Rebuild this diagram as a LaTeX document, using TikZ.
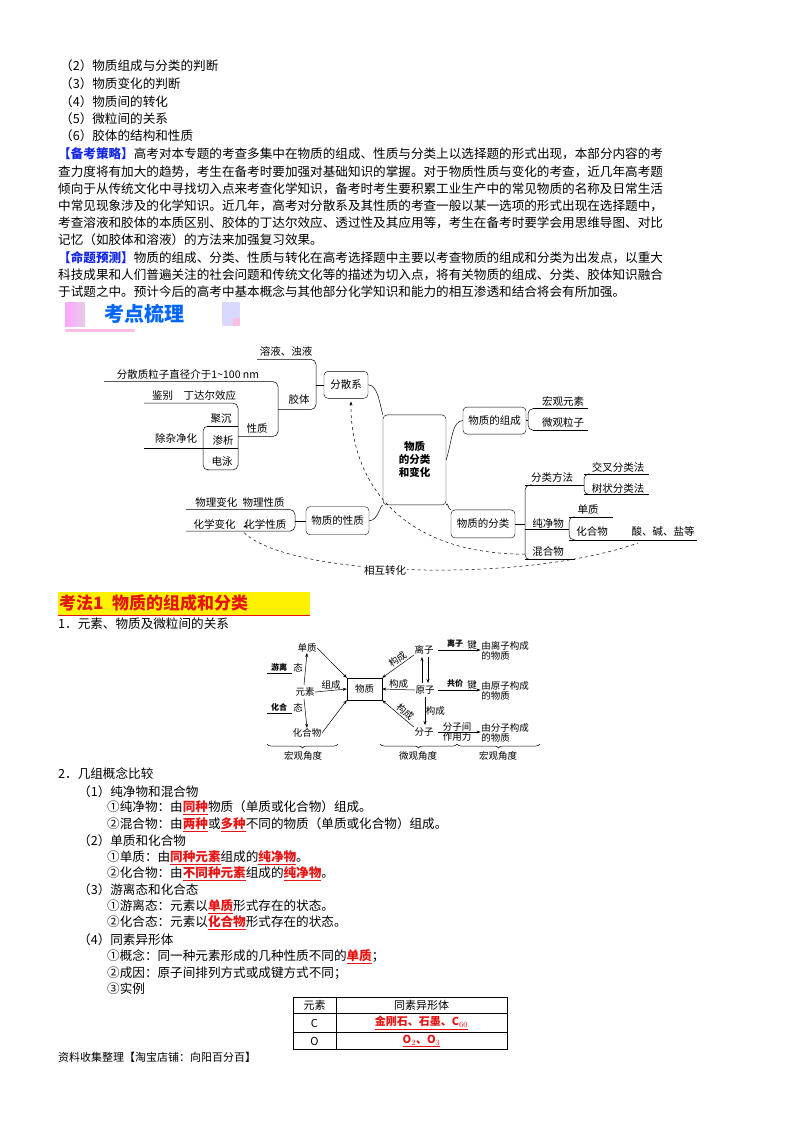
\documentclass[tikz,border=0pt]{standalone}
\usepackage{fontspec}
\setmainfont{Noto Sans CJK SC}
\usetikzlibrary{arrows.meta,decorations.pathreplacing}
\definecolor{hlblue}{RGB}{20,40,230}
\definecolor{hlred}{RGB}{230,20,20}
\newcommand\bt{\fontsize{12.6}{14}\selectfont}
\newcommand\rb[1]{\textcolor{hlred}{\underline{\textbf{#1}}}}
\begin{document}
\begin{tikzpicture}[x=1pt,y=-1pt,
  tl/.style={anchor=west,inner sep=0pt,font=\bt},
  mm/.style={inner sep=1pt,font=\fontsize{10.5}{12}\selectfont},
  mbox/.style={draw,rounded corners=4pt,inner sep=2pt,font=\fontsize{10.5}{12}\selectfont},
  dg/.style={inner sep=0.5pt,font=\fontsize{9.5}{10.5}\selectfont},
  ar/.style={-{Stealth[length=4pt,width=3pt]}},
  ln/.style={line width=0.5pt}]
\useasboundingbox (0,0) rectangle (800,1132);
\fill[white] (0,0) rectangle (800,1132);
% ---------- top text
\node[tl] at (60,66) {（2）物质组成与分类的判断};
\node[tl] at (60,84) {（3）物质变化的判断};
\node[tl] at (60,102) {（4）物质间的转化};
\node[tl] at (60,119) {（5）微粒间的关系};
\node[tl] at (60,136) {（6）胶体的结构和性质};
\node[tl] at (58,154) {\textcolor{hlblue}{\textbf{【备考策略】}}高考对本专题的考查多集中在物质的组成、性质与分类上以选择题的形式出现，本部分内容的考};
\node[tl] at (58,172) {查力度将有加大的趋势，考生在备考时要加强对基础知识的掌握。对于物质性质与变化的考查，近几年高考题};
\node[tl] at (58,189) {倾向于从传统文化中寻找切入点来考查化学知识，备考时考生要积累工业生产中的常见物质的名称及日常生活};
\node[tl] at (58,206) {中常见现象涉及的化学知识。近几年，高考对分散系及其性质的考查一般以某一选项的形式出现在选择题中，};
\node[tl] at (58,223) {考查溶液和胶体的本质区别、胶体的丁达尔效应、透过性及其应用等，考生在备考时要学会用思维导图、对比};
\node[tl] at (58,240) {记忆（如胶体和溶液）的方法来加强复习效果。};
\node[tl] at (58,258) {\textcolor{hlblue}{\textbf{【命题预测】}}物质的组成、分类、性质与转化在高考选择题中主要以考查物质的组成和分类为出发点，以重大};
\node[tl] at (58,275) {科技成果和人们普遍关注的社会问题和传统文化等的描述为切入点，将有关物质的组成、分类、胶体知识融合};
\node[tl] at (58,292) {于试题之中。预计今后的高考中基本概念与其他部分化学知识和能力的相互渗透和结合将会有所加强。};
% ---------- banner
\fill[left color=magenta!35,right color=violet!20] (65,302) rectangle (85,326);
\fill[blue!15] (222,302) rectangle (240,326);
\fill[magenta!25] (233,318) rectangle (240,326);
\fill[magenta!25] (65,329) rectangle (135,332);
\node[anchor=west,inner sep=0pt,font=\fontsize{20}{22}\selectfont\bfseries,text=blue!60!cyan] (banner) at (104,314) {考点梳理};
% ---------- mind map
\begin{scope}[shift={(0,67.6)},y=-0.795pt]
\node[mbox,minimum width=63pt,minimum height=90pt,align=center,font=\fontsize{10.5}{13}\selectfont\bfseries] (ctr) at (414.5,493.5) {物质\\的分类\\和变化};
\node[mbox,minimum width=44pt,minimum height=27pt] (fsx) at (346,399) {分散系};
\node[mbox,minimum width=63pt,minimum height=27pt] (zc) at (494.5,444) {物质的组成};
\node[mbox,minimum width=64pt,minimum height=28pt] (fl) at (483,574) {物质的分类};
\node[mbox,minimum width=63pt,minimum height=28pt] (xz) at (337.5,570) {物质的性质};
\node[mm] (ry) at (286,357) {溶液、浊液};
\node[mm] (fz) at (188,386) {分散质粒子直径介于1\textasciitilde100 nm};
\node[mm] (jt) at (299,418) {胶体};
\node[mm] (jb) at (194,412) {鉴别\quad 丁达尔效应};
\node[mm] (xzh) at (257,454) {性质};
\node[mm] (jc) at (221,441) {聚沉};
\node[mm] (cz) at (176,467) {除杂净化};
\node[mm] (sx) at (223,469) {渗析};
\node[mm] (dy) at (222,495) {电泳};
\node[mm] (wl) at (240,547) {物理变化\enspace 物理性质};
\node[mm] (hx) at (240,575) {化学变化\enspace\,\,化学性质};
\node[mm] (hg) at (563,420) {宏观元素};
\node[mm] (wg) at (563,446) {微观粒子};
\node[mm] (ff) at (552,516) {分类方法};
\node[mm] (jx) at (618,503) {交叉分类法};
\node[mm] (sz) at (618,529) {树状分类法};
\node[mm] (dz) at (588,556) {单质};
\node[mm] (cj) at (548,573) {纯净物};
\node[mm] (hh) at (592,584) {化合物};
\node[mm] (sj) at (663,584) {酸、碱、盐等};
\node[mm] (hw) at (548,609) {混合物};
\begin{scope}[ln,rounded corners=5pt]
\draw (257,367) -- (316,367) -- (316,430) -- (278,430);
\draw (316,399) -- (fsx.west);
\draw (104,395) -- (278,395) -- (278,464) -- (238,464);
\draw (144,422) -- (238,422) -- (238,506) -- (207,506);
\draw (207,451) -- (238,451);
\draw (207,451) -- (203,451) -- (203,506) -- (207,506);
\draw (144,479) -- (238,479);
\draw (186,556) -- (295,556) -- (295,583) -- (186,583);
\draw (295,570) -- (xz.west);
\draw (533,429) -- (588,429);
\draw (533,456) -- (588,456);
\draw (533,429) -- (528,429) -- (528,456) -- (533,456);
\draw (zc.east) -- (528,444);
\draw (525,525) -- (584,525);
\draw (584,511) -- (649,511);
\draw (584,537) -- (649,537);
\draw (590,511) -- (584,511) -- (584,537) -- (590,537);
\draw (525,581) -- (569,581);
\draw (569,565) -- (613,565);
\draw (569,594) -- (697,594);
\draw (575,565) -- (569,565) -- (569,594) -- (575,594);
\draw (525,619) -- (575,619);
\draw (532,525) -- (525,525) -- (525,619) -- (532,619);
\draw (fl.east) -- (525,574);
\end{scope}
\draw[ln] (fsx.east) .. controls (378,399) and (380,425) .. (ctr.north west);
\draw[ln] (xz.east) .. controls (378,570) and (380,550) .. (ctr.south west);
\draw[ln] (ctr.east) .. controls (452,470) and (452,444) .. (zc.west);
\draw[ln] (ctr.south east) .. controls (448,545) and (448,556) .. (fl.north west);
\draw[ar,ln] (249,576) -- (243,578);
\draw[dashed,ln] (244,585) .. controls (290,640) and (520,650) .. (638,598);
\node[mm,fill=white] (hz) at (385,632) {相互转化};
\draw[dashed,ln,ar] (525,612) .. controls (400,612) and (350,520) .. (351,420);
\end{scope}
% ---------- heading
\fill[yellow] (58,592) rectangle (310,615);
\node[anchor=west,inner sep=0pt,font=\fontsize{17}{19}\selectfont\bfseries,text=hlred] (kf) at (59,603) {考法1\enspace 物质的组成和分类};
\draw[hlred,line width=1pt] (58,615) -- (310,615);
\node[tl] at (58,624) {1．元素、物质及微粒间的关系};
% ---------- relation diagram
\node[draw,minimum width=35pt,minimum height=22pt,inner sep=0pt,font=\fontsize{9.5}{10.5}\selectfont] (wz) at (364.5,689) {物质};
\node[dg] (dzz) at (307,648) {单质};
\node[dg] (ys) at (305,692) {元素};
\node[dg] (hhw) at (307,733) {化合物};
\node[dg,font=\fontsize{8}{9}\selectfont\bfseries] (yl) at (279,667) {游离};
\node[dg] (t1) at (298,668) {态};
\node[dg,font=\fontsize{8}{9}\selectfont\bfseries] (hht) at (279,707) {化合};
\node[dg] (t2) at (298,708) {态};
\draw[ln] (267,673) -- (292,673);
\draw[ln] (267,713) -- (292,713);
\draw[ar,ln] (304,685) -- (dzz.south);
\draw[ar,ln] (304,699) -- (hhw.north);
\draw[ar,ln] (ys.east) -- node[dg,above]{组成} (wz.west);
\draw[ar,ln] (dzz.east) -- (wz.north west);
\draw[ar,ln] (hhw.east) -- (wz.south west);
\node[dg] (lz) at (424,650) {离子};
\node[dg] (yz) at (425,690) {原子};
\node[dg] (fzz) at (424,732) {分子};
\draw[ar,ln] (lz.south west) -- node[dg,above=1pt,sloped,pos=0.4]{构成} (wz.north east);
\draw[ar,ln] (yz.west) -- node[dg,above]{构成} (wz.east);
\draw[ar,ln] (fzz.north west) -- node[dg,above=1pt,sloped,pos=0.4]{构成} (wz.south east);
\draw[ar,ln] (422,683) -- (422,657);
\draw[ar,ln] (428,657) -- (428,683);
\draw[ar,ln] (425,697) -- node[dg,right]{构成} (425,725);
\node[dg,font=\fontsize{8}{9}\selectfont\bfseries] (lzj) at (455,643) {离子};
\node[dg] (j1) at (472,645) {键};
\node[dg,align=left] (lw) at (505,651) {由离子构成\\的物质};
\draw[ar,ln] (438,650) -- (lw.west|-442,650);
\node[dg,font=\fontsize{8}{9}\selectfont\bfseries] (gjj) at (455,683) {共价};
\node[dg] (j2) at (472,685) {键};
\node[dg,align=left] (yw) at (505,691) {由原子构成\\的物质};
\draw[ar,ln] (438,690) -- (yw.west|-442,690);
\node[dg,align=center] (fzl) at (457,732) {分子间\\作用力};
\node[dg,align=left] (fw) at (505,733) {由分子构成\\的物质};
\draw[ar,ln] (438,732) -- (fw.west|-442,732);
\draw[decorate,decoration={brace,mirror,amplitude=4pt},ln] (267,744) -- (338,744);
\draw[decorate,decoration={brace,mirror,amplitude=4pt},ln] (380,744) -- (457,744);
\draw[decorate,decoration={brace,mirror,amplitude=4pt},ln] (457,744) -- (540,744);
\node[dg] (hg1) at (303,756) {宏观角度};
\node[dg] (wg1) at (418,756) {微观角度};
\node[dg] (hg2) at (498,756) {宏观角度};
% ---------- concepts
\node[tl] at (58,774) {2．几组概念比较};
\node[tl] at (78,792) {（1）纯净物和混合物};
\node[tl] at (107,808) {①纯净物：由\rb{同种}物质（单质或化合物）组成。};
\node[tl] at (107,825) {②混合物：由\rb{两种}或\rb{多种}不同的物质（单质或化合物）组成。};
\node[tl] at (78,841) {（2）单质和化合物};
\node[tl] at (107,858) {①单质：由\rb{同种元素}组成的\rb{纯净物}。};
\node[tl] at (107,874) {②化合物：由\rb{不同种元素}组成的\rb{纯净物}。};
\node[tl] at (78,890) {（3）游离态和化合态};
\node[tl] at (107,907) {①游离态：元素以\rb{单质}形式存在的状态。};
\node[tl] at (107,923) {②化合态：元素以\rb{化合物}形式存在的状态。};
\node[tl] at (78,940) {（4）同素异形体};
\node[tl] at (107,957) {①概念：同一种元素形成的几种性质不同的\rb{单质}；};
\node[tl] at (107,973) {②成因：原子间排列方式或成键方式不同；};
\node[tl] at (107,989) {③实例};
% table
\draw[line width=0.8pt] (293,997) rectangle (507,1049);
\draw[ln] (336,997) -- (336,1049);
\draw[ln] (293,1013) -- (507,1013);
\draw[ln] (293,1032) -- (507,1032);
\node[dg,font=\fontsize{11}{12}\selectfont] (c1) at (314.5,1005) {元素};
\node[dg,font=\fontsize{11}{12}\selectfont] (c2) at (421.5,1005) {同素异形体};
\node[dg,font=\fontsize{11}{12}\selectfont] (c3) at (314.5,1023) {C};
\node[dg,font=\fontsize{11}{12}\selectfont] (c4) at (421.5,1023) {\rb{金刚石、石墨、C$_{60}$}};
\node[dg,font=\fontsize{11}{12}\selectfont] (c5) at (314.5,1041) {O};
\node[dg,font=\fontsize{11}{12}\selectfont] (c6) at (421.5,1041) {\rb{O$_2$、O$_3$}};
\node[tl,font=\fontsize{11}{12}\selectfont] at (58,1057) {资料收集整理【淘宝店铺：向阳百分百】};
\end{tikzpicture}
\end{document}
